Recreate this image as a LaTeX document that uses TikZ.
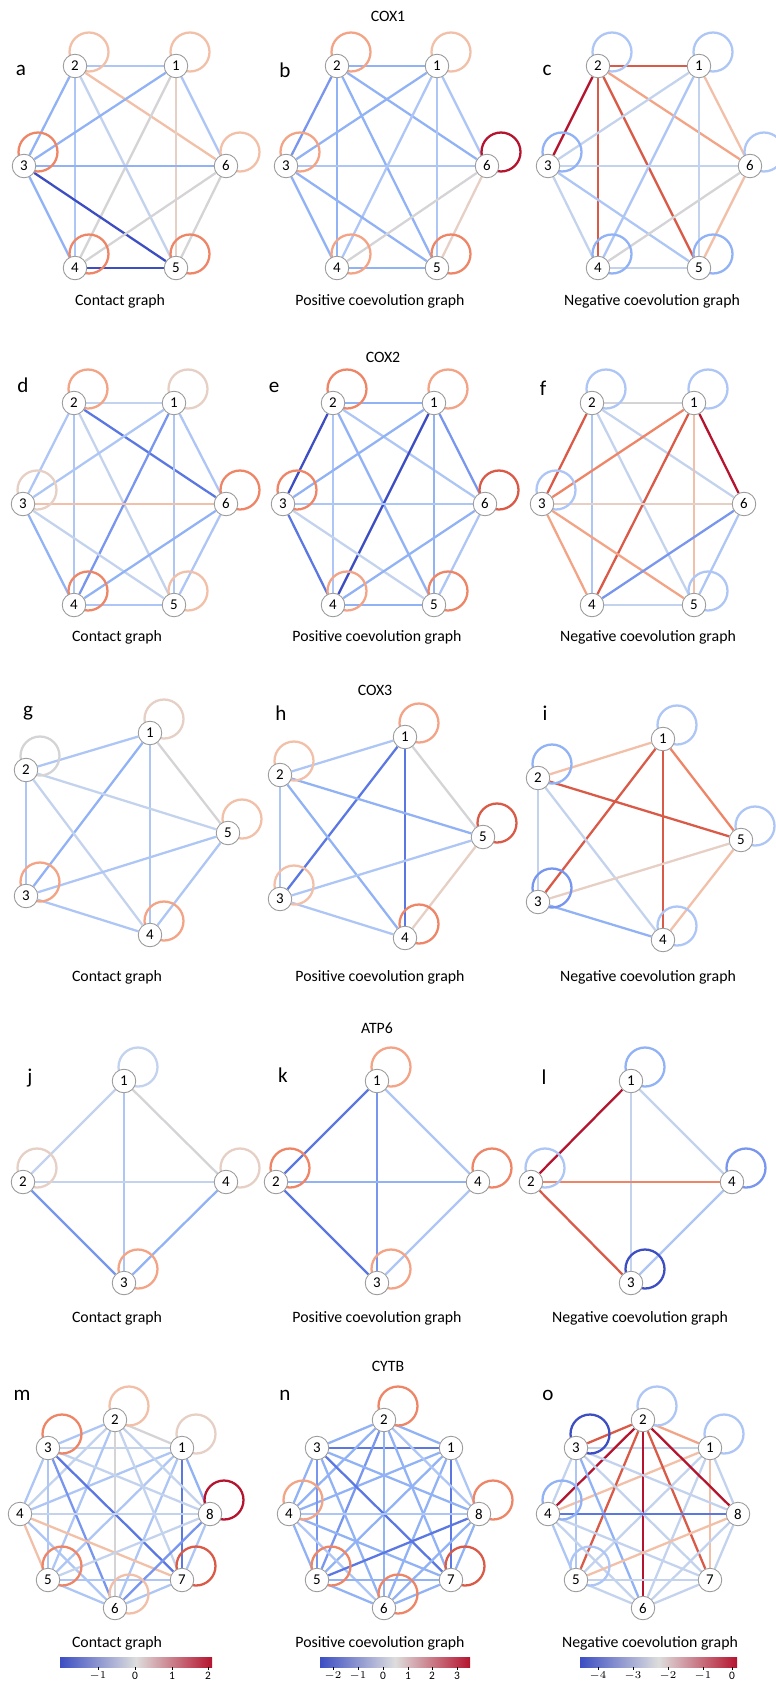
\documentclass[tikz,border=0pt]{standalone}
\usepackage{fontspec}
\setmainfont{Carlito}
\usetikzlibrary{backgrounds}

% colours of the edge weights
\definecolor{bA}{HTML}{3C4EC2}
\definecolor{bB}{HTML}{5B78E2}
\definecolor{bC}{HTML}{7896EE}
\definecolor{bD}{HTML}{92B2F6}
\definecolor{bE}{HTML}{AEC6F5}
\definecolor{bF}{HTML}{C3D3EE}
\definecolor{gG}{HTML}{D4D4D6}
\definecolor{rF}{HTML}{E6CFC4}
\definecolor{rE}{HTML}{F2C0A8}
\definecolor{rD}{HTML}{F4A486}
\definecolor{rC}{HTML}{EE8566}
\definecolor{rB}{HTML}{DA5A48}
\definecolor{rA}{HTML}{B5142E}
\definecolor{cmid}{HTML}{DDDDDD}

\newcommand{\drawgraph}[4]{%
    \foreach \num/\x/\y in {#2}
        \node[vertex] (#1-\num) at (\x,\y) {\num};
    \begin{scope}[on background layer]
        \foreach \from/\to/\col in {#3}
            \draw[edge,\col] (#1-\from) -- (#1-\to);
        \foreach \num/\col in {#4}
            \draw[edge,\col] (#1-\num) ++(14,-14) circle (0.39cm);
    \end{scope}}

\begin{document}
\begin{tikzpicture}[x=0.02cm,y=-0.02cm]
    \tikzstyle{vertex}=[circle,draw=black!40,fill=white,line width=0.5pt,minimum size=13.4pt,inner sep=0pt,font=\fontsize{8.5}{9}\selectfont]
    \tikzstyle{edge}=[line width=1.3pt]
    \tikzstyle{letter}=[font=\fontsize{12}{14}\selectfont]
    \tikzstyle{title}=[font=\fontsize{9}{11}\selectfont]
    \tikzstyle{caption}=[font=\fontsize{9}{11}\selectfont]
    \tikzstyle{tick}=[font=\fontsize{6.5}{8}\selectfont]
    \tikzstyle{cbar}=[left color=bA,right color=rA,middle color=cmid]
    \useasboundingbox (0,0) rectangle (775,1686);

    % COX1
    \node[title] (t-cox1) at (388,16) {COX1};
    \node[letter] (l-a) at (21,70) {a};
    \node[letter] (l-b) at (285,70) {b};
    \node[letter] (l-c) at (547,70) {c};
    \drawgraph{a}{1/176/66, 2/75/66, 3/24/166, 4/75/268, 5/176/268, 6/226/166}
        {2/1/bE, 2/3/bD, 2/4/bE, 2/5/bF, 2/6/rE, 1/3/bD, 1/4/gG, 1/5/rF, 1/6/bE, 3/6/bD, 3/5/bA, 3/4/bD, 4/5/bA, 4/6/gG, 6/5/gG}
        {2/rE, 1/rE, 3/rC, 6/rE, 4/rC, 5/rC}
    \drawgraph{b}{1/437/66, 2/337/66, 3/286/166, 4/337/268, 5/437/268, 6/487/166}
        {2/1/bD, 2/3/bC, 2/4/bD, 2/5/bD, 2/6/bD, 1/3/bD, 1/4/bE, 1/5/bE, 1/6/bE, 3/6/bE, 3/5/bD, 3/4/bD, 4/5/bD, 4/6/gG, 6/5/rF}
        {2/rD, 1/rE, 3/rD, 6/rA, 4/rD, 5/rC}
    \drawgraph{c}{1/699/66, 2/598/66, 3/548/166, 4/598/268, 5/699/268, 6/750/166}
        {2/1/rB, 2/3/rA, 2/4/rB, 2/5/rB, 2/6/rD, 1/3/bF, 1/4/bE, 1/5/bF, 1/6/rE, 3/6/bF, 3/5/bE, 3/4/bF, 4/5/bF, 4/6/gG, 6/5/rE}
        {2/bE, 1/bE, 3/bD, 6/bE, 4/bD, 5/bD}
    \node[caption] (cap-a) at (120,301) {Contact graph};
    \node[caption] (cap-b) at (380,301) {Positive coevolution graph};
    \node[caption] (cap-c) at (652,301) {Negative coevolution graph};

    % COX2
    \node[title] (t-cox2) at (383,357) {COX2};
    \node[letter] (l-d) at (23,385) {d};
    \node[letter] (l-e) at (274,387) {e};
    \node[letter] (l-f) at (543,388) {f};
    \drawgraph{d}{1/174/403, 2/74/403, 3/23/504, 4/74/605, 5/174/605, 6/226/504}
        {2/1/bF, 2/3/bE, 2/4/bE, 2/5/bF, 2/6/bB, 1/3/bE, 1/4/bC, 1/5/bE, 1/6/bE, 3/6/rE, 3/5/bF, 3/4/bD, 4/5/bE, 4/6/bD, 6/5/bE}
        {2/rD, 1/rF, 3/rF, 6/rC, 4/rC, 5/rE}
    \drawgraph{e}{1/434/403, 2/333/403, 3/283/504, 4/333/605, 5/434/605, 6/485/504}
        {2/1/bD, 2/3/bA, 2/4/bE, 2/5/bD, 2/6/bE, 1/3/bD, 1/4/bA, 1/5/bD, 1/6/bC, 3/6/bE, 3/5/bF, 3/4/bB, 4/5/bD, 4/6/bD, 6/5/bE}
        {2/rC, 1/rD, 3/rC, 6/rB, 4/rD, 5/rC}
    \drawgraph{f}{1/694/403, 2/592/403, 3/542/504, 4/592/605, 5/694/605, 6/744/504}
        {2/1/gG, 2/3/rB, 2/4/bE, 2/5/bF, 2/6/bF, 1/3/rC, 1/4/rB, 1/5/rE, 1/6/rA, 3/6/rF, 3/5/rD, 3/4/rD, 4/5/bF, 4/6/bC, 6/5/bE}
        {2/bE, 1/bE, 3/bE, 5/bE}
    \node[caption] (cap-d) at (117,637) {Contact graph};
    \node[caption] (cap-e) at (377,637) {Positive coevolution graph};
    \node[caption] (cap-f) at (648,637) {Negative coevolution graph};

    % COX3
    \node[title] (t-cox3) at (375,690) {COX3};
    \node[letter] (l-g) at (28,713) {g};
    \node[letter] (l-h) at (281,713) {h};
    \node[letter] (l-i) at (545,713) {i};
    \drawgraph{g}{1/150/733, 2/26/770, 3/26/896, 4/150/935, 5/228/833}
        {1/2/bE, 1/3/bD, 1/4/bE, 1/5/gG, 2/5/bF, 2/3/bE, 2/4/bF, 3/5/bE, 3/4/bE, 4/5/bE}
        {1/rF, 2/gG, 5/rE, 3/rD, 4/rD}
    \drawgraph{h}{1/405/737, 2/280/775, 3/280/899, 4/405/938, 5/483/837}
        {1/2/bE, 1/3/bB, 1/4/bB, 1/5/gG, 2/5/bD, 2/3/bE, 2/4/bD, 3/5/bE, 3/4/bE, 4/5/rF}
        {1/rD, 2/rE, 5/rB, 3/rE, 4/rC}
    \drawgraph{i}{1/663/739, 2/538/778, 3/538/902, 4/663/940, 5/741/840}
        {1/2/rE, 1/3/rB, 1/4/rB, 1/5/rC, 2/5/rB, 2/3/bF, 2/4/bF, 3/5/rF, 3/4/bD, 4/5/rE}
        {1/bE, 2/bD, 5/bE, 3/bC, 4/bE}
    \node[caption] (cap-g) at (117,977) {Contact graph};
    \node[caption] (cap-h) at (380,977) {Positive coevolution graph};
    \node[caption] (cap-i) at (648,977) {Negative coevolution graph};

    % ATP6
    \node[title] (t-atp6) at (377,1028) {ATP6};
    \node[letter] (l-j) at (30,1078) {j};
    \node[letter] (l-k) at (283,1075) {k};
    \node[letter] (l-l) at (544,1077) {l};
    \drawgraph{j}{1/124/1081, 2/23/1182, 3/124/1283, 4/226/1182}
        {1/2/bF, 1/3/bE, 1/4/gG, 2/4/bF, 2/3/bC, 3/4/bD}
        {1/bF, 2/rF, 4/rF, 3/rD}
    \drawgraph{k}{1/377/1081, 2/276/1182, 3/377/1283, 4/478/1182}
        {1/2/bB, 1/3/bC, 1/4/bE, 2/4/bD, 2/3/bB, 3/4/bE}
        {1/rD, 2/rC, 4/rC, 3/rD}
    \drawgraph{l}{1/631/1081, 2/531/1182, 3/631/1283, 4/732/1182}
        {1/2/rA, 1/3/bF, 1/4/bF, 2/4/rC, 2/3/rB, 3/4/bE}
        {1/bD, 2/bE, 4/bC, 3/bA}
    \node[caption] (cap-j) at (117,1318) {Contact graph};
    \node[caption] (cap-k) at (377,1318) {Positive coevolution graph};
    \node[caption] (cap-l) at (640,1318) {Negative coevolution graph};

    % CYTB
    \node[title] (t-cytb) at (388,1366) {CYTB};
    \node[letter] (l-m) at (22,1395) {m};
    \node[letter] (l-n) at (285,1395) {n};
    \node[letter] (l-o) at (548,1395) {o};
    \drawgraph{m}{1/182/1448, 2/115/1420, 3/48/1448, 4/20/1514, 5/48/1580, 6/115/1608, 7/182/1580, 8/210/1514}
        {1/2/gG, 1/3/bF, 1/4/bE, 1/5/bE, 1/6/bE, 1/7/bB, 1/8/bD, 2/3/bE, 2/4/bF, 2/5/bE, 2/6/gG, 2/7/bF, 2/8/bF, 3/4/bE, 3/5/bE, 3/6/bC, 3/7/bB, 3/8/bF, 4/5/rE, 4/6/bE, 4/7/rE, 4/8/bF, 5/6/bE, 5/7/bE, 5/8/bF, 6/7/bE, 6/8/bC, 7/8/bE}
        {1/rF, 2/rE, 3/rC, 5/rC, 6/rE, 7/rB, 8/rA}
    \drawgraph{n}{1/451/1448, 2/384/1420, 3/317/1448, 4/289/1514, 5/317/1580, 6/384/1608, 7/451/1580, 8/479/1514}
        {1/2/bD, 1/3/bB, 1/4/bD, 1/5/bD, 1/6/bD, 1/7/bB, 1/8/bE, 2/3/bD, 2/4/bD, 2/5/bC, 2/6/bD, 2/7/bD, 2/8/bE, 3/4/bD, 3/5/bC, 3/6/bD, 3/7/bB, 3/8/bD, 4/5/bD, 4/6/bE, 4/7/bD, 4/8/bE, 5/6/bD, 5/7/bD, 5/8/bB, 6/7/bD, 6/8/bD, 7/8/bD}
        {2/rC, 4/rD, 5/rC, 6/rC, 7/rB, 8/rC}
    \drawgraph{o}{1/710/1448, 2/643/1420, 3/576/1448, 4/548/1514, 5/576/1580, 6/643/1608, 7/710/1580, 8/738/1514}
        {1/2/rD, 1/3/bF, 1/4/rE, 1/5/bF, 1/6/bF, 1/7/rE, 1/8/bF, 2/3/rB, 2/4/rA, 2/5/rB, 2/6/rA, 2/7/rB, 2/8/rA, 3/4/bF, 3/5/bE, 3/6/bD, 3/7/bF, 3/8/bF, 4/5/bE, 4/6/bF, 4/7/bF, 4/8/bB, 5/6/bF, 5/7/bF, 5/8/rE, 6/7/bF, 6/8/bF, 7/8/bF}
        {1/bE, 2/bE, 3/bA, 4/bD, 5/bE}
    \node[caption] (cap-m) at (117,1643) {Contact graph};
    \node[caption] (cap-n) at (380,1643) {Positive coevolution graph};
    \node[caption] (cap-o) at (650,1643) {Negative coevolution graph};

    % colour bars
    \shade[cbar] (60,1657) rectangle (212,1667);
    \shade[cbar] (320,1657) rectangle (470,1667);
    \shade[cbar] (580,1657) rectangle (737,1667);
    \foreach \v/\x in {$-1$/98, 0/135, 1/172, 2/208}
        \draw (\x,1667) -- (\x,1670) node[tick,below,inner sep=1pt] {\v};
    \foreach \v/\x in {$-2$/333, $-1$/358, 0/383, 1/408, 2/432, 3/457}
        \draw (\x,1667) -- (\x,1670) node[tick,below,inner sep=1pt] {\v};
    \foreach \v/\x in {$-4$/598, $-3$/633, $-2$/668, $-1$/703, 0/732}
        \draw (\x,1667) -- (\x,1670) node[tick,below,inner sep=1pt] {\v};
\end{tikzpicture}
\end{document}
